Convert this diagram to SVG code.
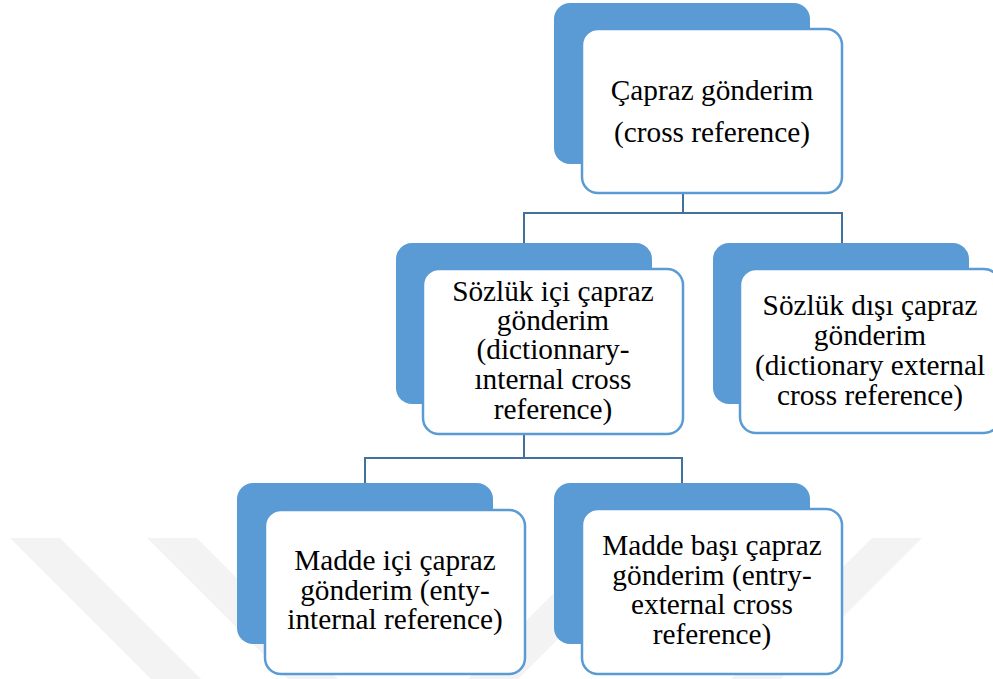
<svg xmlns="http://www.w3.org/2000/svg" width="993" height="679" viewBox="0 0 993 679">
<style>
.back{fill:#5B9BD5;}
.front{fill:#ffffff;stroke:#5B9BD5;stroke-width:2.5;}
.wm{fill:#f3f3f3;}
.conn{fill:none;stroke:#41719C;stroke-width:2;}
.t{font-family:'Times New Roman',Tinos,'Liberation Serif',serif;font-size:29.3px;fill:#000000;text-anchor:middle;}
</style>
<rect width="993" height="679" fill="#ffffff"/>
<g id="watermark">
<polygon class="wm" points="10,538 60,538 201,679 151,679"/>
<polygon class="wm" points="147,538 197,538 338,679 288,679"/>
<polygon class="wm" points="609,538 659,538 518,679 468,679"/>
<polygon class="wm" points="872,538 922,538 781,679 731,679"/>
</g>
<g id="connectors">
<path class="conn" d="M683,193 V213 M524,243 V213 H842 V243"/>
<path class="conn" d="M524,434 V458 M365,483 V458 H682 V483"/>
</g>
<g id="n-root">
<rect class="back" x="554" y="3" width="256" height="161" rx="16"/>
<rect class="front" x="582" y="29" width="260" height="164" rx="16"/>
<text class="t" x="712" y="100">Çapraz gönderim</text>
<text class="t" x="712" y="142">(cross reference)</text>
</g>
<g id="n-internal">
<rect class="back" x="396" y="243" width="256" height="161" rx="16"/>
<rect class="front" x="423" y="269" width="260" height="165" rx="16"/>
<text class="t" x="553" y="301">Sözlük içi çapraz</text>
<text class="t" x="553" y="330">gönderim</text>
<text class="t" x="553" y="359">(dictionnary-</text>
<text class="t" x="553" y="389">ınternal cross</text>
<text class="t" x="553" y="419">reference)</text>
</g>
<g id="n-external">
<rect class="back" x="713" y="243" width="256" height="161" rx="16"/>
<rect class="front" x="740" y="269" width="260" height="164" rx="16"/>
<text class="t" x="870" y="315">Sözlük dışı çapraz</text>
<text class="t" x="870" y="345">gönderim</text>
<text class="t" x="870" y="375">(dictionary external</text>
<text class="t" x="870" y="405">cross reference)</text>
</g>
<g id="n-entry-internal">
<rect class="back" x="237" y="483" width="256" height="161" rx="16"/>
<rect class="front" x="265" y="510" width="260" height="164" rx="16"/>
<text class="t" x="395" y="570">Madde içi çapraz</text>
<text class="t" x="395" y="600">gönderim (enty-</text>
<text class="t" x="395" y="629">internal reference)</text>
</g>
<g id="n-entry-external">
<rect class="back" x="554" y="483" width="256" height="161" rx="16"/>
<rect class="front" x="582" y="509" width="260" height="165" rx="16"/>
<text class="t" x="712" y="555">Madde başı çapraz</text>
<text class="t" x="712" y="585">gönderim (entry-</text>
<text class="t" x="712" y="614">external cross</text>
<text class="t" x="712" y="644">reference)</text>
</g>
</svg>
